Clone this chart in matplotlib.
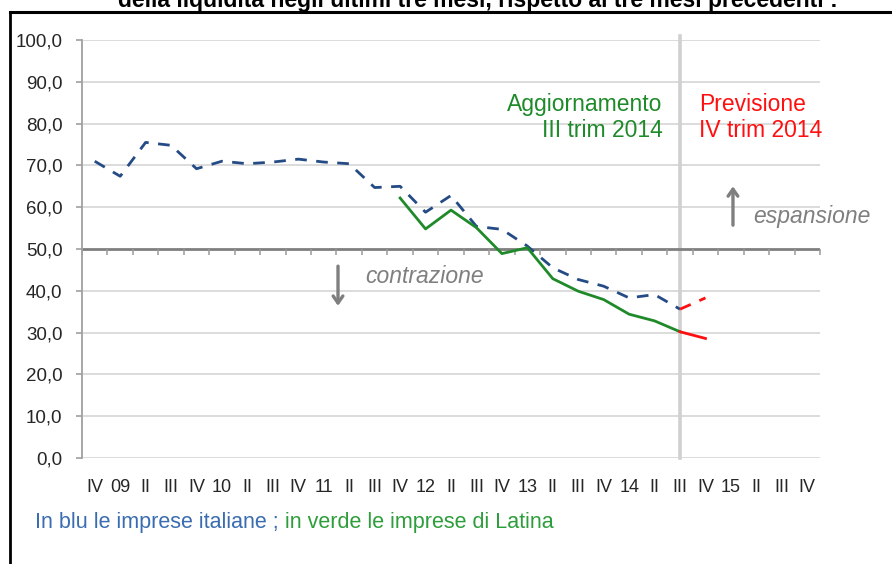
import matplotlib
matplotlib.use("Agg")
import matplotlib.pyplot as plt
from matplotlib import font_manager as fm
from matplotlib.lines import Line2D

# ---------------- data ----------------
quarter_labels = ["IV", "09", "II", "III", "IV", "10", "II", "III", "IV", "11",
                  "II", "III", "IV", "12", "II", "III", "IV", "13", "II", "III",
                  "IV", "14", "II", "III", "IV", "15", "II", "III", "IV"]
italia_x = list(range(0, 24))
italia = [71.0, 67.4, 75.5, 74.8, 69.2, 71.0, 70.4, 70.8, 71.5, 70.8, 70.4, 64.7,
          65.0, 58.8, 62.8, 55.4, 54.7, 50.7, 45.5, 42.7, 41.1, 38.3, 39.1, 35.6]
italia_prev_x = [23, 24]
italia_prev = [35.6, 38.3]
latina_x = list(range(12, 24))
latina = [62.2, 54.8, 59.3, 55.1, 48.9, 50.3, 42.9, 39.9, 37.9, 34.4, 32.8, 30.2]
latina_prev_x = [23, 24]
latina_prev = [30.2, 28.6]
y_ticks = [0, 10, 20, 30, 40, 50, 60, 70, 80, 90, 100]
update_index = 23

# ---------------- fonts ----------------
def has_font(name):
    try:
        fm.findfont(fm.FontProperties(family=name), fallback_to_default=False)
        return True
    except Exception:
        return False

base = "Liberation Sans"
narrow = "Liberation Sans Narrow" if has_font("Liberation Sans Narrow") else None
plt.rcParams["font.family"] = [base, "DejaVu Sans"]

W, H = 892, 564
fig = plt.figure(figsize=(W / 100, H / 100), dpi=100)
ax = fig.add_axes([82 / W, (H - 458) / H, (820 - 82) / W, (458 - 40) / H])

blue = "#244b85"
green = "#1f8a2a"
red = "#ff1010"
grid_c = "#d9d9d9"
dark_grey = "#7f7f7f"

ax.set_xlim(-0.5, len(quarter_labels) - 0.5)
ax.set_ylim(0, 100)

# grid
for v in y_ticks:
    if v == 50:
        continue
    ax.axhline(v, color=grid_c, lw=1.3, zorder=1)
ax.axhline(50, color=dark_grey, lw=2.0, zorder=2)
# small ticks on the 50 line at category boundaries
for k in range(len(quarter_labels) + 1):
    ax.plot([k - 0.5, k - 0.5], [50, 48.6], color="#9a9a9a", lw=1.1, zorder=2,
            solid_capstyle="butt", clip_on=False)

# vertical separator
ax.axvline(update_index, ymin=0, ymax=1.01, color="#d0d0d0", lw=2.6, zorder=1,
           clip_on=False)

# series
ax.plot(italia_x, italia, color=blue, lw=2.0, dashes=(4.2, 3.4), zorder=4,
        dash_capstyle="butt")
ax.plot(italia_prev_x, italia_prev, color=red, lw=2.0, dashes=(4.2, 3.4), zorder=4)
ax.plot(latina_x, latina, color=green, lw=2.0, zorder=5)
ax.plot(latina_prev_x, latina_prev, color=red, lw=2.0, zorder=5)

# axes styling
for s in ["top", "right", "bottom"]:
    ax.spines[s].set_visible(False)
ax.spines["left"].set_color("#a0a0a0")
ax.spines["left"].set_linewidth(1.3)
ax.set_yticks(y_ticks)
ax.set_yticklabels([f"{v:.1f}".replace(".", ",") for v in y_ticks])
ax.tick_params(axis="y", direction="out", length=4, width=1.2, color="#a0a0a0",
               pad=10, labelsize=13.5, labelcolor="#262626")
ax.set_xticks(range(len(quarter_labels)))
if narrow:
    ax.set_xticklabels(quarter_labels, family=narrow, fontsize=14.5)
else:
    ax.set_xticklabels(quarter_labels, fontsize=13)
ax.tick_params(axis="x", length=0, pad=15, labelcolor="#262626")

# annotations
ann_fs = 16.5
ax.text(22.32, 83.1, "Aggiornamento", color=green, fontsize=ann_fs,
        ha="right", va="baseline")
ax.text(22.32, 76.8, "III trim 2014", color=green, fontsize=ann_fs,
        ha="right", va="baseline")
ax.text(23.74, 83.1, "Previsione", color=red, fontsize=ann_fs,
        ha="left", va="baseline")
ax.text(23.74, 76.8, "IV trim 2014", color=red, fontsize=ann_fs,
        ha="left", va="baseline")
ax.text(25.86, 56.2, "espansione", color=dark_grey, fontsize=ann_fs,
        style="italic", ha="left", va="baseline")
ax.text(10.62, 41.9, "contrazione", color=dark_grey, fontsize=ann_fs,
        style="italic", ha="left", va="baseline")

arrow_kw = dict(arrowstyle="->,head_length=0.5,head_width=0.35", color=dark_grey,
                lw=2.4, shrinkA=0, shrinkB=0)
ax.annotate("", xy=(25.08, 65.0), xytext=(25.08, 55.7), arrowprops=arrow_kw)
ax.annotate("", xy=(9.56, 36.4), xytext=(9.56, 45.9), arrowprops=arrow_kw)

# footer
t1 = fig.text(35 / W, 1 - 528 / H, "In blu le imprese italiane ;", color="#3a6db0",
              fontsize=15.5, ha="left", va="baseline")
fig.canvas.draw()
ax.annotate(" in verde le imprese di Latina", xy=(1, 0), xycoords=t1,
            xytext=(0, 0), textcoords="offset points", color="#2e9e3c",
            fontsize=15.5, ha="left", va="bottom")

# title (partially cut at top, as in the source image)
fig.text(478 / W, 1 - 7 / H,
         "della liquidità negli ultimi tre mesi, rispetto ai tre mesi precedenti :",
         fontsize=16.5, fontweight="bold", color="black", ha="center",
         va="baseline")

# frame lines
fig.add_artist(Line2D([10 / W, 1.0], [1 - 12 / H, 1 - 12 / H], color="black",
                      lw=2.2, transform=fig.transFigure))
fig.add_artist(Line2D([10 / W, 10 / W], [0, 1 - 12 / H], color="black",
                      lw=2.0, transform=fig.transFigure))

fig.savefig("out.png", dpi=100)
